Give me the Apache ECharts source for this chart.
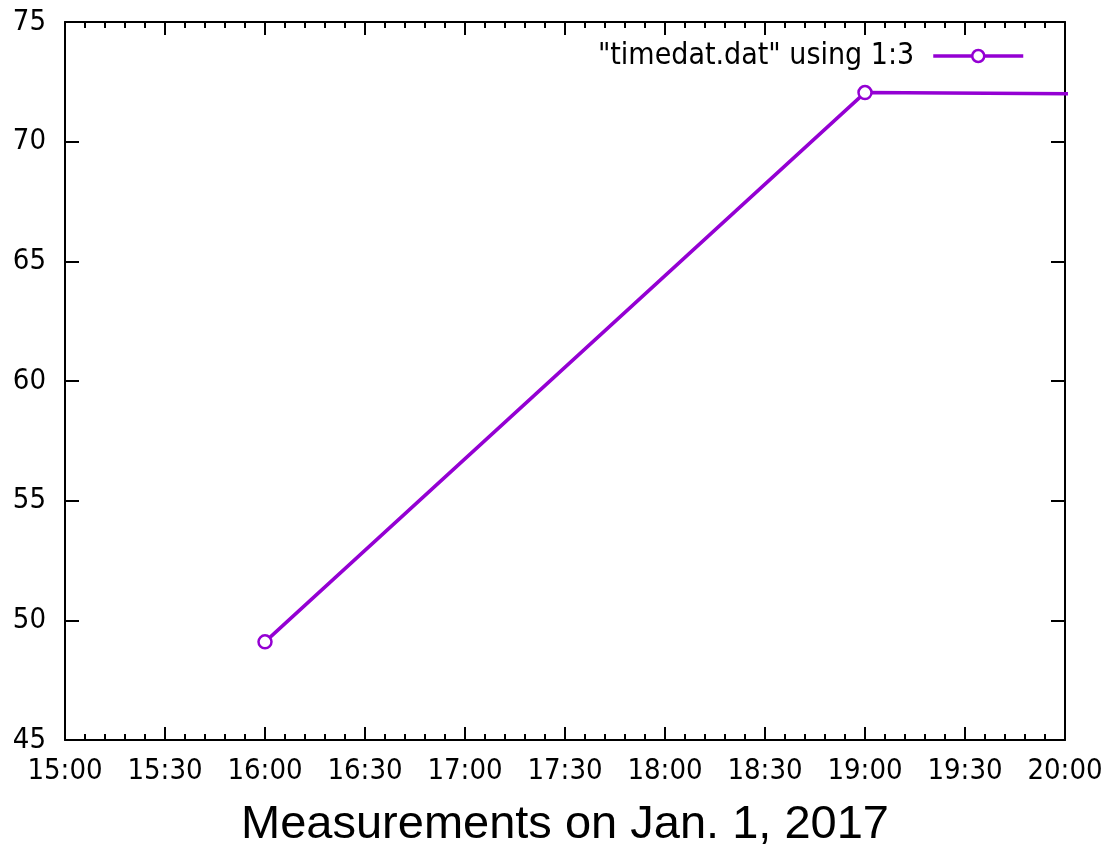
<!DOCTYPE html>
<html>
<head>
<meta charset="utf-8">
<script src="https://cdn.jsdelivr.net/npm/echarts@6/dist/echarts.min.js"></script>
<style>
html,body{margin:0;padding:0;background:#fff;}
#c{width:1110px;height:850px;}
</style>
</head>
<body>
<div id="c"></div>
<script>
var times = ["16:00", "19:00", "21:00"];
var values = [49.1, 72.05, 71.95];
var seriesName = '"timedat.dat" using 1:3';
var xTitle = "Measurements on Jan. 1, 2017";
var xMinLabel = "15:00", xMaxLabel = "20:00";
var yMin = 45, yMax = 75, yStep = 5;

function toHours(s){ var p = s.split(":"); return +p[0] + (+p[1])/60; }
function fmt(v){
  var m = Math.round(v*60);
  var h = Math.floor(m/60), mm = m % 60;
  return h + ":" + (mm < 10 ? "0" : "") + mm;
}
var data = times.map(function(t,i){ return [toHours(t), values[i]]; });
var xmin = toHours(xMinLabel), xmax = toHours(xMaxLabel);

var font = "'DejaVu Sans Condensed', 'DejaVu Sans'";
var axisLine = {show:true, onZero:false, lineStyle:{color:"#000", width:2}};
var chart = echarts.init(document.getElementById("c"));
chart.setOption({
  animation:false,
  backgroundColor:"#fff",
  grid:{left:65, right:45, top:22, bottom:110, containLabel:false, outerBoundsMode:"none"},
  legend:{
    show:true, right:80, top:36, align:"right",
    itemWidth:90, itemHeight:15, itemGap:0,
    lineStyle:{width:3.5},
    itemStyle:{borderWidth:2.5},
    textStyle:{fontFamily:font, fontSize:30, color:"#000", padding:[0,14,0,0]},
    data:[{name:seriesName}]
  },
  xAxis:[{
    type:"value", min:xmin, max:xmax, interval:0.5, position:"bottom",
    name:xTitle, nameLocation:"middle", nameGap:62,
    nameTextStyle:{fontFamily:"Liberation Sans", fontSize:47, color:"#000", verticalAlign:"top"},
    axisLine:axisLine,
    axisTick:{show:true, inside:true, length:13, lineStyle:{color:"#000", width:2}},
    minorTick:{show:true, splitNumber:5, length:6, lineStyle:{color:"#000", width:2}},
    axisLabel:{fontFamily:font, fontSize:29, color:"#000", margin:17, formatter:fmt},
    splitLine:{show:false}
  },{
    type:"value", min:xmin, max:xmax, interval:0.5, position:"top",
    axisLine:axisLine,
    axisTick:{show:true, inside:true, length:13, lineStyle:{color:"#000", width:2}},
    minorTick:{show:true, splitNumber:5, length:6, lineStyle:{color:"#000", width:2}},
    axisLabel:{show:false},
    splitLine:{show:false}
  }],
  yAxis:[{
    type:"value", min:yMin, max:yMax, interval:yStep, position:"left",
    axisLine:axisLine,
    axisTick:{show:true, inside:true, length:14, lineStyle:{color:"#000", width:2}},
    axisLabel:{fontFamily:font, fontSize:29, color:"#000", margin:19},
    splitLine:{show:false}
  },{
    type:"value", min:yMin, max:yMax, interval:yStep, position:"right",
    axisLine:axisLine,
    axisTick:{show:true, inside:true, length:14, lineStyle:{color:"#000", width:2}},
    axisLabel:{show:false},
    splitLine:{show:false}
  }],
  series:[{
    name:seriesName, type:"line", data:data, xAxisIndex:0, yAxisIndex:0,
    clip:true,
    symbol:"circle", symbolSize:13, showAllSymbol:true,
    itemStyle:{color:"#fff", borderColor:"#9400d3", borderWidth:2.5},
    lineStyle:{color:"#9400d3", width:3.5},
    color:"#9400d3"
  }]
});
</script>
</body>
</html>
